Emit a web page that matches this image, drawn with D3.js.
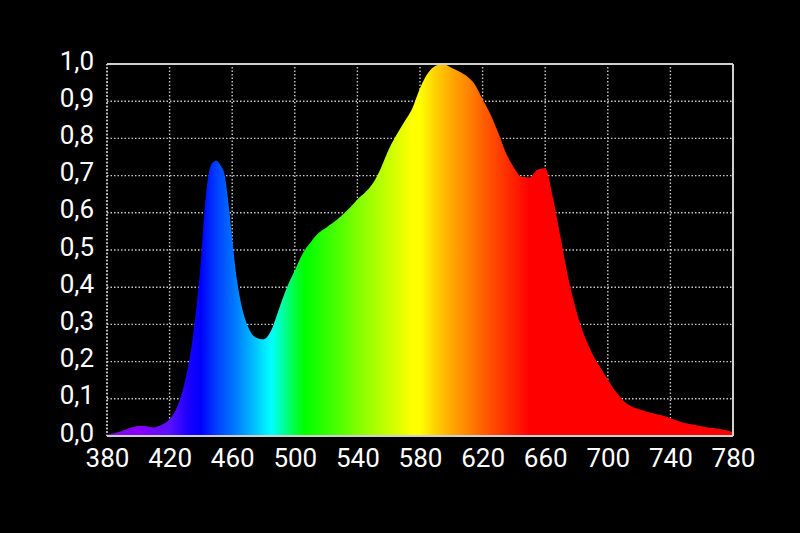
<!DOCTYPE html>
<html>
<head>
<meta charset="utf-8">
<script src="https://cdn.jsdelivr.net/npm/d3@7/dist/d3.min.js"></script>
<style>
html,body{margin:0;padding:0;background:#000;}
svg{display:block;}
text{font-family:Roboto,"Noto Sans",sans-serif;fill:#fff;}
</style>
</head>
<body>
<script>
const wavelengths = [380,385,390,395,400,405,410,415,420,425,430,435,437.5,440,442.5,445,447.5,450,452.5,455,457.5,460,462.5,465,470,475,480,485,490,495,500,505,510,515,520,525,530,535,540,545,550,555,560,565,570,575,580,585,590,595,600,605,610,615,620,625,630,635,640,645,650,655,660,665,670,675,680,685,690,695,700,705,710,715,720,725,730,735,740,745,750,755,760,765,770,775,780];
const intensity = [0.003,0.008,0.014,0.022,0.027,0.026,0.023,0.030,0.045,0.080,0.150,0.27,0.36,0.47,0.615,0.705,0.735,0.740,0.728,0.705,0.63,0.53,0.435,0.37,0.295,0.265,0.26,0.285,0.343,0.40,0.445,0.49,0.52,0.545,0.56,0.575,0.593,0.613,0.636,0.655,0.68,0.72,0.77,0.81,0.845,0.88,0.935,0.975,0.995,1.0,0.99,0.98,0.967,0.945,0.905,0.865,0.815,0.76,0.722,0.697,0.695,0.716,0.72,0.64,0.53,0.42,0.335,0.27,0.222,0.186,0.152,0.12,0.095,0.08,0.072,0.065,0.06,0.055,0.048,0.04,0.034,0.03,0.026,0.022,0.02,0.016,0.01];
const xTicks = [380,420,460,500,540,580,620,660,700,740,780];
const yTicks = [0,0.1,0.2,0.3,0.4,0.5,0.6,0.7,0.8,0.9,1.0];
const spectrumStops = [
  [380,"#7a10d8"],[400,"#8a00ff"],[420,"#5a10ff"],[432,"#1a00ff"],[440,"#0000ff"],
  [450,"#0040ff"],[460,"#0070ff"],[470,"#00a8ff"],[480,"#00e4ff"],[485,"#00ffff"],
  [490,"#00ffc0"],[495,"#00ff80"],[500,"#00ff40"],[506,"#00ff00"],[520,"#30ff00"],
  [540,"#80ff00"],[560,"#c8ff00"],[575,"#ffff00"],[580,"#ffff00"],[590,"#ffd000"],
  [600,"#ffa800"],[610,"#ff8800"],[620,"#ff6000"],[635,"#ff3000"],[650,"#ff0000"],[780,"#ff0000"]
];

const W = 800, H = 533;
const m = {left:107, right:67, top:64, bottom:97};
const svg = d3.select("body").append("svg").attr("width",W).attr("height",H);
svg.append("rect").attr("width",W).attr("height",H).attr("fill","#000");

const x = d3.scaleLinear().domain([380,780]).range([m.left, W-m.right]);
const y = d3.scaleLinear().domain([0,1]).range([H-m.bottom, m.top]);

// grid
const grid = svg.append("g");
grid.selectAll(".vg").data(xTicks.slice(0,-1)).enter().append("line")
  .attr("x1",d=>x(d)).attr("x2",d=>x(d)).attr("y1",y(0)).attr("y2",y(1))
  .attr("stroke","#c8c8c8").attr("stroke-width",1.4).attr("stroke-dasharray","1.5,2");
grid.selectAll(".hg").data(yTicks.slice(1,-1)).enter().append("line")
  .attr("y1",d=>y(d)).attr("y2",d=>y(d)).attr("x1",x(380)).attr("x2",x(780))
  .attr("stroke","#c8c8c8").attr("stroke-width",1.4).attr("stroke-dasharray","1.5,2");

// gradient
const defs = svg.append("defs");
const grad = defs.append("linearGradient").attr("id","spec")
  .attr("gradientUnits","userSpaceOnUse")
  .attr("x1",x(380)).attr("x2",x(780)).attr("y1",0).attr("y2",0);
grad.selectAll("stop").data(spectrumStops).enter().append("stop")
  .attr("offset",d=>(d[0]-380)/400).attr("stop-color",d=>d[1]);

const data = wavelengths.map((w,i)=>({w, v:intensity[i]}));
const area = d3.area().x(d=>x(d.w)).y0(y(0)).y1(d=>y(d.v)).curve(d3.curveMonotoneX);
svg.append("path").datum(data).attr("d",area).attr("fill","url(#spec)");

// frame
svg.append("line").attr("x1",x(380)).attr("x2",x(780)).attr("y1",y(1)).attr("y2",y(1))
  .attr("stroke","#d0d0d0").attr("stroke-width",2);
svg.append("line").attr("x1",x(380)).attr("x2",x(780)).attr("y1",y(0)).attr("y2",y(0))
  .attr("stroke","#d0d0d0").attr("stroke-width",2);
svg.append("line").attr("x1",x(780)).attr("x2",x(780)).attr("y1",y(1)).attr("y2",y(0))
  .attr("stroke","#d0d0d0").attr("stroke-width",2);
svg.append("line").attr("x1",x(380)).attr("x2",x(380)).attr("y1",y(1)).attr("y2",y(0))
  .attr("stroke","#d0d0d0").attr("stroke-width",1.6).attr("stroke-dasharray","1.5,2");

// axes labels via d3 axes
const fmt = d => d3.format(".1f")(d).replace(".", ",");
const xAxis = svg.append("g").attr("transform",`translate(0,${y(0)})`)
  .call(d3.axisBottom(x).tickValues(xTicks).tickSize(0).tickPadding(0).tickFormat(d3.format("d")));
xAxis.select(".domain").remove();
xAxis.selectAll("text").attr("y",31).attr("dy",0).attr("font-size",26).attr("fill","#fff")
  .style("font-family","Roboto");

const yAxis = svg.append("g").attr("transform",`translate(${x(380)},0)`)
  .call(d3.axisLeft(y).tickValues(yTicks).tickSize(0).tickFormat(fmt));
yAxis.select(".domain").remove();
yAxis.selectAll("text").attr("x",-13).attr("dy","0.35em").attr("y",-4).attr("font-size",26).attr("fill","#fff")
  .style("font-family","Roboto");
</script>
</body>
</html>
